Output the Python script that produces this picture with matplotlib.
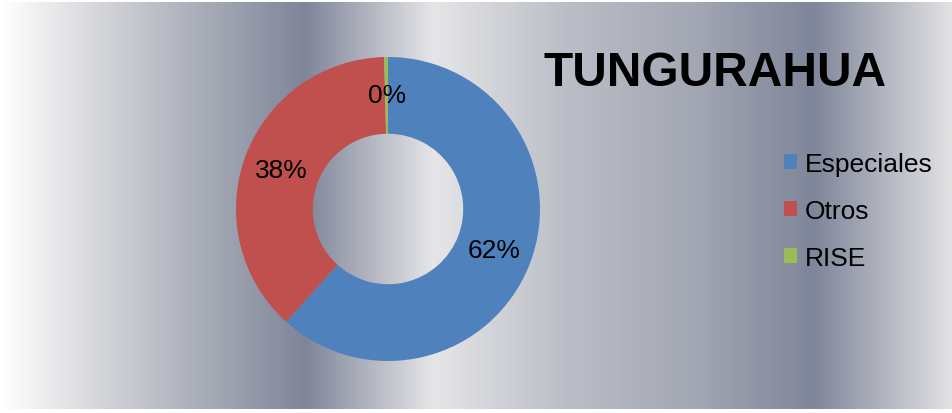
import numpy as np
import matplotlib
matplotlib.use("Agg")
import matplotlib.pyplot as plt
from matplotlib.colors import LinearSegmentedColormap
from matplotlib.patches import Patch

# =====================
#   DATA
# =====================
categories = ["Especiales", "Otros", "RISE"]
shares     = [61.7, 37.9, 0.4]          # percent
colors     = ["#4F81BD", "#C0504D", "#9BBB59"]
title      = "TUNGURAHUA"

plt.rcParams['font.family'] = ['Liberation Sans', 'DejaVu Sans']

W, H, DPI = 953, 414, 100
fig = plt.figure(figsize=(W / DPI, H / DPI), dpi=DPI)
fig.patch.set_facecolor("white")

# silver "chrome" style background gradient (left -> right)
bg = LinearSegmentedColormap.from_list("chrome", [
    (0.00, "#ffffff"),
    (0.10, "#d6d7db"),
    (0.21, "#a9adb8"),
    (0.32, "#7f8599"),
    (0.455, "#e6e6e8"),
    (0.59, "#bcbfc7"),
    (0.73, "#a3a7b3"),
    (0.855, "#7f869a"),
    (1.00, "#e2e2e4"),
])
ax_bg = fig.add_axes([0, 4 / H, 1, 1 - 7 / H])
ax_bg.imshow(np.linspace(0, 1, 512)[None, :], aspect="auto", cmap=bg,
             extent=[0, 1, 0, 1])
ax_bg.set_axis_off()

# donut
cx, cy, r = 388, 210, 152
ax = fig.add_axes([(cx - r) / W, (H - cy - r) / H, 2 * r / W, 2 * r / H])
ax.patch.set_alpha(0)
wedges, _, autotexts = ax.pie(
    shares, colors=colors, startangle=90, counterclock=False,
    radius=1, autopct="%.0f%%", pctdistance=0.747,
    wedgeprops=dict(width=0.505, linewidth=0),
    textprops=dict(fontsize=19, color="black"),
)
ax.set_xlim(-1, 1)
ax.set_ylim(-1, 1)
ax.set_aspect("equal")
ax.set_axis_off()

fig.text(715 / W, 1 - 74 / H, title, ha="center", va="center",
         fontsize=34.5, fontweight="bold", color="black")

handles = [Patch(facecolor=c, edgecolor="none") for c in colors]
fig.legend(handles, categories, loc="center left",
           bbox_to_anchor=(784 / W, 1 - 212 / H), frameon=False,
           fontsize=19, handlelength=0.5, handleheight=0.5,
           handletextpad=0.3, labelspacing=0.86, borderpad=0,
           borderaxespad=0)

fig.savefig("out.png", dpi=DPI)
